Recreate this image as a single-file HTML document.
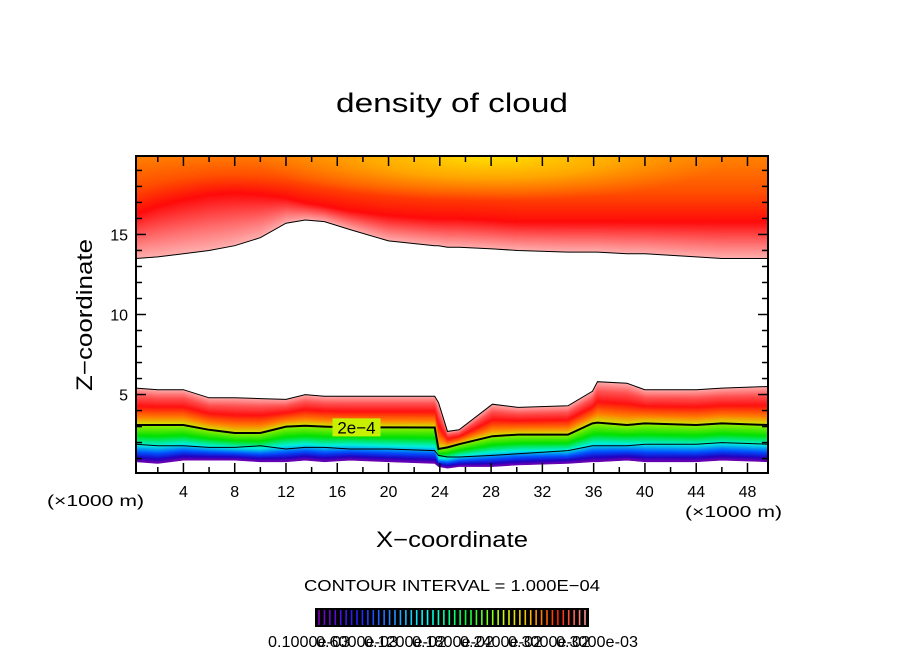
<!DOCTYPE html>
<html><head><meta charset="utf-8"><style>
html,body{margin:0;padding:0;background:#fff;}
svg text{font-family:"Liberation Sans",sans-serif;fill:#000;}
</style></head><body>
<svg id="c" width="904" height="654" viewBox="0 0 904 654" xmlns="http://www.w3.org/2000/svg">
<text x="336" y="112" font-size="27" textLength="232" lengthAdjust="spacingAndGlyphs">density of cloud</text>
<g id="plot"></g>
<g id="axes"></g>
<text x="47" y="506" font-size="16" textLength="97" lengthAdjust="spacingAndGlyphs">(×1000 m)</text>
<text x="685" y="517" font-size="16" textLength="97" lengthAdjust="spacingAndGlyphs">(×1000 m)</text>
<text x="376" y="547" font-size="22" textLength="152" lengthAdjust="spacingAndGlyphs">X−coordinate</text>
<text transform="translate(92,315) rotate(-90)" font-size="22" text-anchor="middle" textLength="152" lengthAdjust="spacingAndGlyphs">Z−coordinate</text>
<text x="304" y="591" font-size="16" textLength="296" lengthAdjust="spacingAndGlyphs">CONTOUR INTERVAL = 1.000E−04</text>
<g id="cbar"></g>
</svg>
<script>
const xs        = [0.3, 2, 4, 6, 8, 10, 12, 13.5, 15, 17, 20, 23.6, 23.9, 24.6, 25.5, 28.1, 30.1, 34, 35.9, 36.3, 38.6, 40, 44, 46, 49.6];
const topEdge   = [13.5,13.6,13.8,14.0,14.3,14.8,15.7,15.9,15.8,15.3,14.6,14.3,14.3,14.2,14.2,14.1,14.0,13.9,13.9,13.9,13.8,13.8,13.6,13.5,13.5];
const lowTop    = [5.4, 5.3, 5.3, 4.8, 4.8, 4.75,4.7, 5.0, 4.9, 4.9, 4.9, 4.9, 4.5, 2.7, 2.8, 4.4, 4.2, 4.3, 5.2, 5.8, 5.7, 5.3, 5.3, 5.4, 5.5];
const contour2  = [3.1, 3.1, 3.1, 2.8, 2.6, 2.6, 3.0, 3.05,3.0, 2.95,2.95,2.94,1.6, 1.7, 1.9, 2.4, 2.5, 2.5, 3.2, 3.25,3.1, 3.2, 3.1, 3.2, 3.1];
const contour1  = [1.9, 1.8, 1.8, 1.7, 1.7, 1.8, 1.6, 1.7, 1.7, 1.6, 1.6, 1.5, 1.2, 1.1, 1.1, 1.2, 1.3, 1.5, 1.8, 1.8, 1.8, 1.9, 1.9, 2.0, 1.9];
const bottomEdge= [0.8, 0.7, 0.9, 0.9, 0.9, 0.8, 0.8, 0.9, 0.8, 0.9, 0.8, 0.7, 0.5, 0.4, 0.5, 0.5, 0.6, 0.7, 0.8, 0.8, 0.9, 0.8, 0.8, 0.9, 0.8];
const redCore   = [16.3,16.8,17.2,17.5,17.6,17.5,17.3,17.0,16.8,16.5,16.2,16.0,16.0,16.0,16.0,15.9,15.8,15.8,15.8,15.8,15.8,15.8,15.8,15.8,15.8];
const xTicks    = [4, 8, 12, 16, 20, 24, 28, 32, 36, 40, 44, 48];
const zTicks    = [5, 10, 15];
const levels    = [0.1,0.2,0.3,0.4,0.5,0.6,0.7,0.8,0.9,1.0,1.1,1.2,1.3,1.4,1.5,1.6,1.7,1.8,1.9,2.0,2.1,2.2,2.3,2.4,2.5,2.6,2.7,2.8,2.9,3.0,3.1,3.2,3.3,3.4,3.5,3.6,3.7,3.8,3.9,4.0,4.1,4.2,4.3,4.4,4.5,4.6,4.7,4.8,4.9,5.0];
const cbarLabels= ["0.1000e-03","0.6000e-03","0.1200e-02","0.1800e-02","0.2400e-02","0.3000e-02","0.3000e-03"];

const NS="http://www.w3.org/2000/svg";
const L=136,R=768,T=156,B=473;
const X0=0.3,X1=49.6,Z0=0.1,Z1=19.9;
const sx=x=>L+(x-X0)/(X1-X0)*(R-L);
const sz=z=>B-(z-Z0)/(Z1-Z0)*(B-T);
function mk(tag,attrs,parent){const e=document.createElementNS(NS,tag);for(const k in attrs)e.setAttribute(k,attrs[k]);parent.appendChild(e);return e;}
function hex(c){return [parseInt(c.slice(1,3),16),parseInt(c.slice(3,5),16),parseInt(c.slice(5,7),16)];}
function ramp(stops,t){for(let i=1;i<stops.length;i++){if(t<=stops[i][0]){const a=stops[i-1],b=stops[i];const u=(t-a[0])/(b[0]-a[0]||1);const ca=hex(a[1]),cb=hex(b[1]);return `rgb(${ca.map((v,j)=>Math.round(v+(cb[j]-v)*u)).join(',')})`;}}return stops[stops.length-1][1];}
function mix(a,b,t){return a.map((v,i)=>v+(b[i]-v)*t);}
function bandPath(upper,lower){let d='';xs.forEach((x,i)=>{d+=(i?'L':'M')+sx(x).toFixed(1)+','+sz(upper[i]).toFixed(1);});for(let i=xs.length-1;i>=0;i--)d+='L'+sx(xs[i]).toFixed(1)+','+sz(lower[i]).toFixed(1);return d+'Z';}
function linePath(arr){let d='';xs.forEach((x,i)=>{d+=(i?'L':'M')+sx(x).toFixed(1)+','+sz(arr[i]).toFixed(1);});return d;}

const plot=document.getElementById('plot');
const defs=mk('defs',{},plot);
const clip=mk('clipPath',{id:'pc'},defs);
mk('rect',{x:L,y:T,width:R-L,height:B-T},clip);
const rg=mk('radialGradient',{id:'yel',cx:'0.5',cy:'0.5',r:'0.5'},defs);
mk('stop',{offset:'0','stop-color':'#ffe000','stop-opacity':'1'},rg);
mk('stop',{offset:'0.5','stop-color':'#ffc000','stop-opacity':'0.7'},rg);
mk('stop',{offset:'1','stop-color':'#ffa000','stop-opacity':'0'},rg);
const g=mk('g',{'clip-path':'url(#pc)'},plot);
const topZ=xs.map(()=>20.5);
const N=40;
const u1=[[0,'#ffb0b0'],[0.4,'#ff7070'],[1,'#ff0a0a']];
for(let k=0;k<N;k++){
  const a=mix(topEdge,redCore,k/N),b=mix(topEdge,redCore,(k+1)/N);
  const c=ramp(u1,(k+0.5)/N);
  const p=mk('path',{d:bandPath(b,a),fill:c,stroke:c,'stroke-width':0.6},g);
  
  
}
const u2=[[0,'#ff0a0a'],[0.4,'#ff5000'],[1,'#ff9000']];
for(let k=0;k<N;k++){
  const a=mix(redCore,topZ,k/N),b=mix(redCore,topZ,(k+1)/N);
  const c=ramp(u2,(k+0.5)/N);
  const p=mk('path',{d:bandPath(b,a),fill:c,stroke:c,'stroke-width':0.6},g);
  
  
}
const ye=mk('ellipse',{cx:sx(28),cy:T,rx:240,ry:45,fill:'url(#yel)'},g);


const aStops=[[0,'#ffb0b0'],[0.25,'#ff5050'],[0.5,'#ff1010'],[0.8,'#ff8000'],[1,'#d0e800']];
for(let k=0;k<N;k++){
  const a=mix(lowTop,contour2,k/N),b=mix(lowTop,contour2,(k+1)/N);
  const c=ramp(aStops,(k+0.5)/N);
  const p=mk('path',{d:bandPath(a,b),fill:c,stroke:c,'stroke-width':0.6},g);
  
  
}
const bStops=[[0,'#a0f000'],[0.3,'#00e000'],[0.55,'#00f0e0'],[0.75,'#0050ff'],[0.9,'#2000c0'],[1,'#7000b0']];
for(let k=0;k<N;k++){
  const a=mix(contour2,bottomEdge,k/N),b=mix(contour2,bottomEdge,(k+1)/N);
  const c=ramp(bStops,(k+0.5)/N);
  const p=mk('path',{d:bandPath(a,b),fill:c,stroke:c,'stroke-width':0.6},g);
  
  
}
[[topEdge,1],[lowTop,1],[contour1,1],[contour2,2]].forEach(([arr,w])=>{
  const p=mk('path',{d:linePath(arr),fill:'none',stroke:'#000','stroke-width':w},g);
  
  
});
const lbx=sx(17.5),lbz=sz(2.95);
mk('rect',{x:lbx-24,y:lbz-9,width:48,height:18,fill:'#c8f000'},g);
const lt=mk('text',{x:lbx,y:lbz+6,'font-size':17,'text-anchor':'middle'},g);
lt.textContent='2e−4';



const ax=document.getElementById('axes');
mk('rect',{x:L,y:T,width:R-L,height:B-T,fill:'none',stroke:'#000','stroke-width':2},ax);
for(let x=2;x<=48;x+=2){const maj=x%4===0;const px=sx(x);
  mk('line',{x1:px,x2:px,y1:B,y2:B-(maj?10:6),stroke:'#000','stroke-width':1.5},ax);
  mk('line',{x1:px,x2:px,y1:T,y2:T+(maj?10:6),stroke:'#000','stroke-width':1.5},ax);}
for(let z=1;z<=19;z++){const maj=z%5===0;const py=sz(z);
  mk('line',{x1:L,x2:L+(maj?10:6),y1:py,y2:py,stroke:'#000','stroke-width':1.5},ax);
  mk('line',{x1:R,x2:R-(maj?10:6),y1:py,y2:py,stroke:'#000','stroke-width':1.5},ax);}
xTicks.forEach(v=>{const t=mk('text',{x:sx(v),y:497,'font-size':16,'text-anchor':'middle'},ax);t.textContent=v;
  
  });
zTicks.forEach(v=>{const t=mk('text',{x:128,y:sz(v)+6,'font-size':16,'text-anchor':'end'},ax);t.textContent=v;
  
  });

const cb=document.getElementById('cbar');
const cx0=315,cx1=589,cy0=608,cy1=627;
mk('rect',{x:cx0,y:cy0,width:cx1-cx0,height:cy1-cy0,fill:'#000'},cb);
const cStops=[[0,'#8000c0'],[0.15,'#2020ff'],[0.3,'#20a0ff'],[0.4,'#00ffff'],[0.55,'#00ff40'],[0.7,'#d0ff00'],[0.8,'#ffb000'],[0.9,'#ff2000'],[1,'#ff9090']];
const lmin=levels[0],lmax=levels[levels.length-1];
levels.forEach(v=>{const t=(v-lmin)/(lmax-lmin);const px=cx0+4+t*(cx1-cx0-8);
  const l=mk('line',{x1:px,x2:px,y1:cy0+2,y2:cy1-2,stroke:ramp(cStops,t),'stroke-width':1.6},cb);
  
  });
cbarLabels.forEach((s,i)=>{const t=mk('text',{x:268+i*48,y:647,'font-size':16,textLength:82,lengthAdjust:'spacingAndGlyphs'},cb);t.textContent=s;
  
  });
</script>
</body></html>
